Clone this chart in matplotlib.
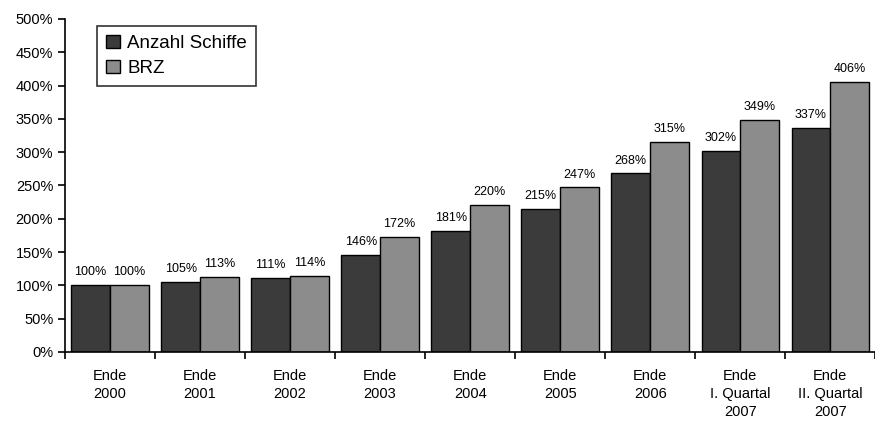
import matplotlib.pyplot as plt
import numpy as np

plt.rcParams['font.family'] = ['Liberation Sans', 'DejaVu Sans']

categories = ['Ende\n2000', 'Ende\n2001', 'Ende\n2002', 'Ende\n2003', 'Ende\n2004',
              'Ende\n2005', 'Ende\n2006', 'Ende\nI. Quartal\n2007', 'Ende\nII. Quartal\n2007']
schiffe = [100, 105, 111, 146, 181, 215, 268, 302, 337]
brz = [100, 113, 114, 172, 220, 247, 315, 349, 406]

fig = plt.figure(figsize=(8.75, 4.21), dpi=100)
ax = fig.add_axes([0.0743, 0.164, 0.926, 0.791])

x = np.arange(len(categories))
w = 0.43
b1 = ax.bar(x - w/2, schiffe, w, color='#3b3b3b', edgecolor='black', linewidth=1, label='Anzahl Schiffe')
b2 = ax.bar(x + w/2, brz, w, color='#8c8c8c', edgecolor='black', linewidth=1, label='BRZ')

# value labels above each bar
for bars, vals in ((b1, schiffe), (b2, brz)):
    for r, v in zip(bars, vals):
        ax.annotate(f'{v}%', (r.get_x() + r.get_width()/2, v), xytext=(0, 5),
                    textcoords='offset points', ha='center', va='bottom', fontsize=9)

ax.set_xlim(-0.5, len(categories) - 0.5)
ax.set_ylim(0, 500)
ax.set_yticks(range(0, 501, 50))
ax.set_yticklabels([f'{t}%' for t in range(0, 501, 50)], fontsize=10.5)
ax.set_xticks(x)
ax.set_xticklabels(categories, fontsize=10.5, linespacing=1.4)
ax.tick_params(axis='x', which='major', length=0, pad=12)
ax.set_xticks(np.arange(-0.5, len(categories), 1), minor=True)
ax.tick_params(axis='x', which='minor', length=5, width=1.2)
ax.tick_params(axis='y', length=5, width=1.2)
for s in ('top', 'right'):
    ax.spines[s].set_visible(False)
ax.spines['left'].set_linewidth(1.2)
ax.spines['bottom'].set_linewidth(1.2)

leg = ax.legend(loc='upper left', bbox_to_anchor=(0.0395, 0.979), fontsize=13.5,
                fancybox=False, edgecolor='black', handlelength=0.7, handleheight=0.7,
                borderpad=0.5, labelspacing=0.4, handletextpad=0.4, borderaxespad=0)
leg.get_frame().set_linewidth(1.2)

fig.savefig('out.png', dpi=100)
